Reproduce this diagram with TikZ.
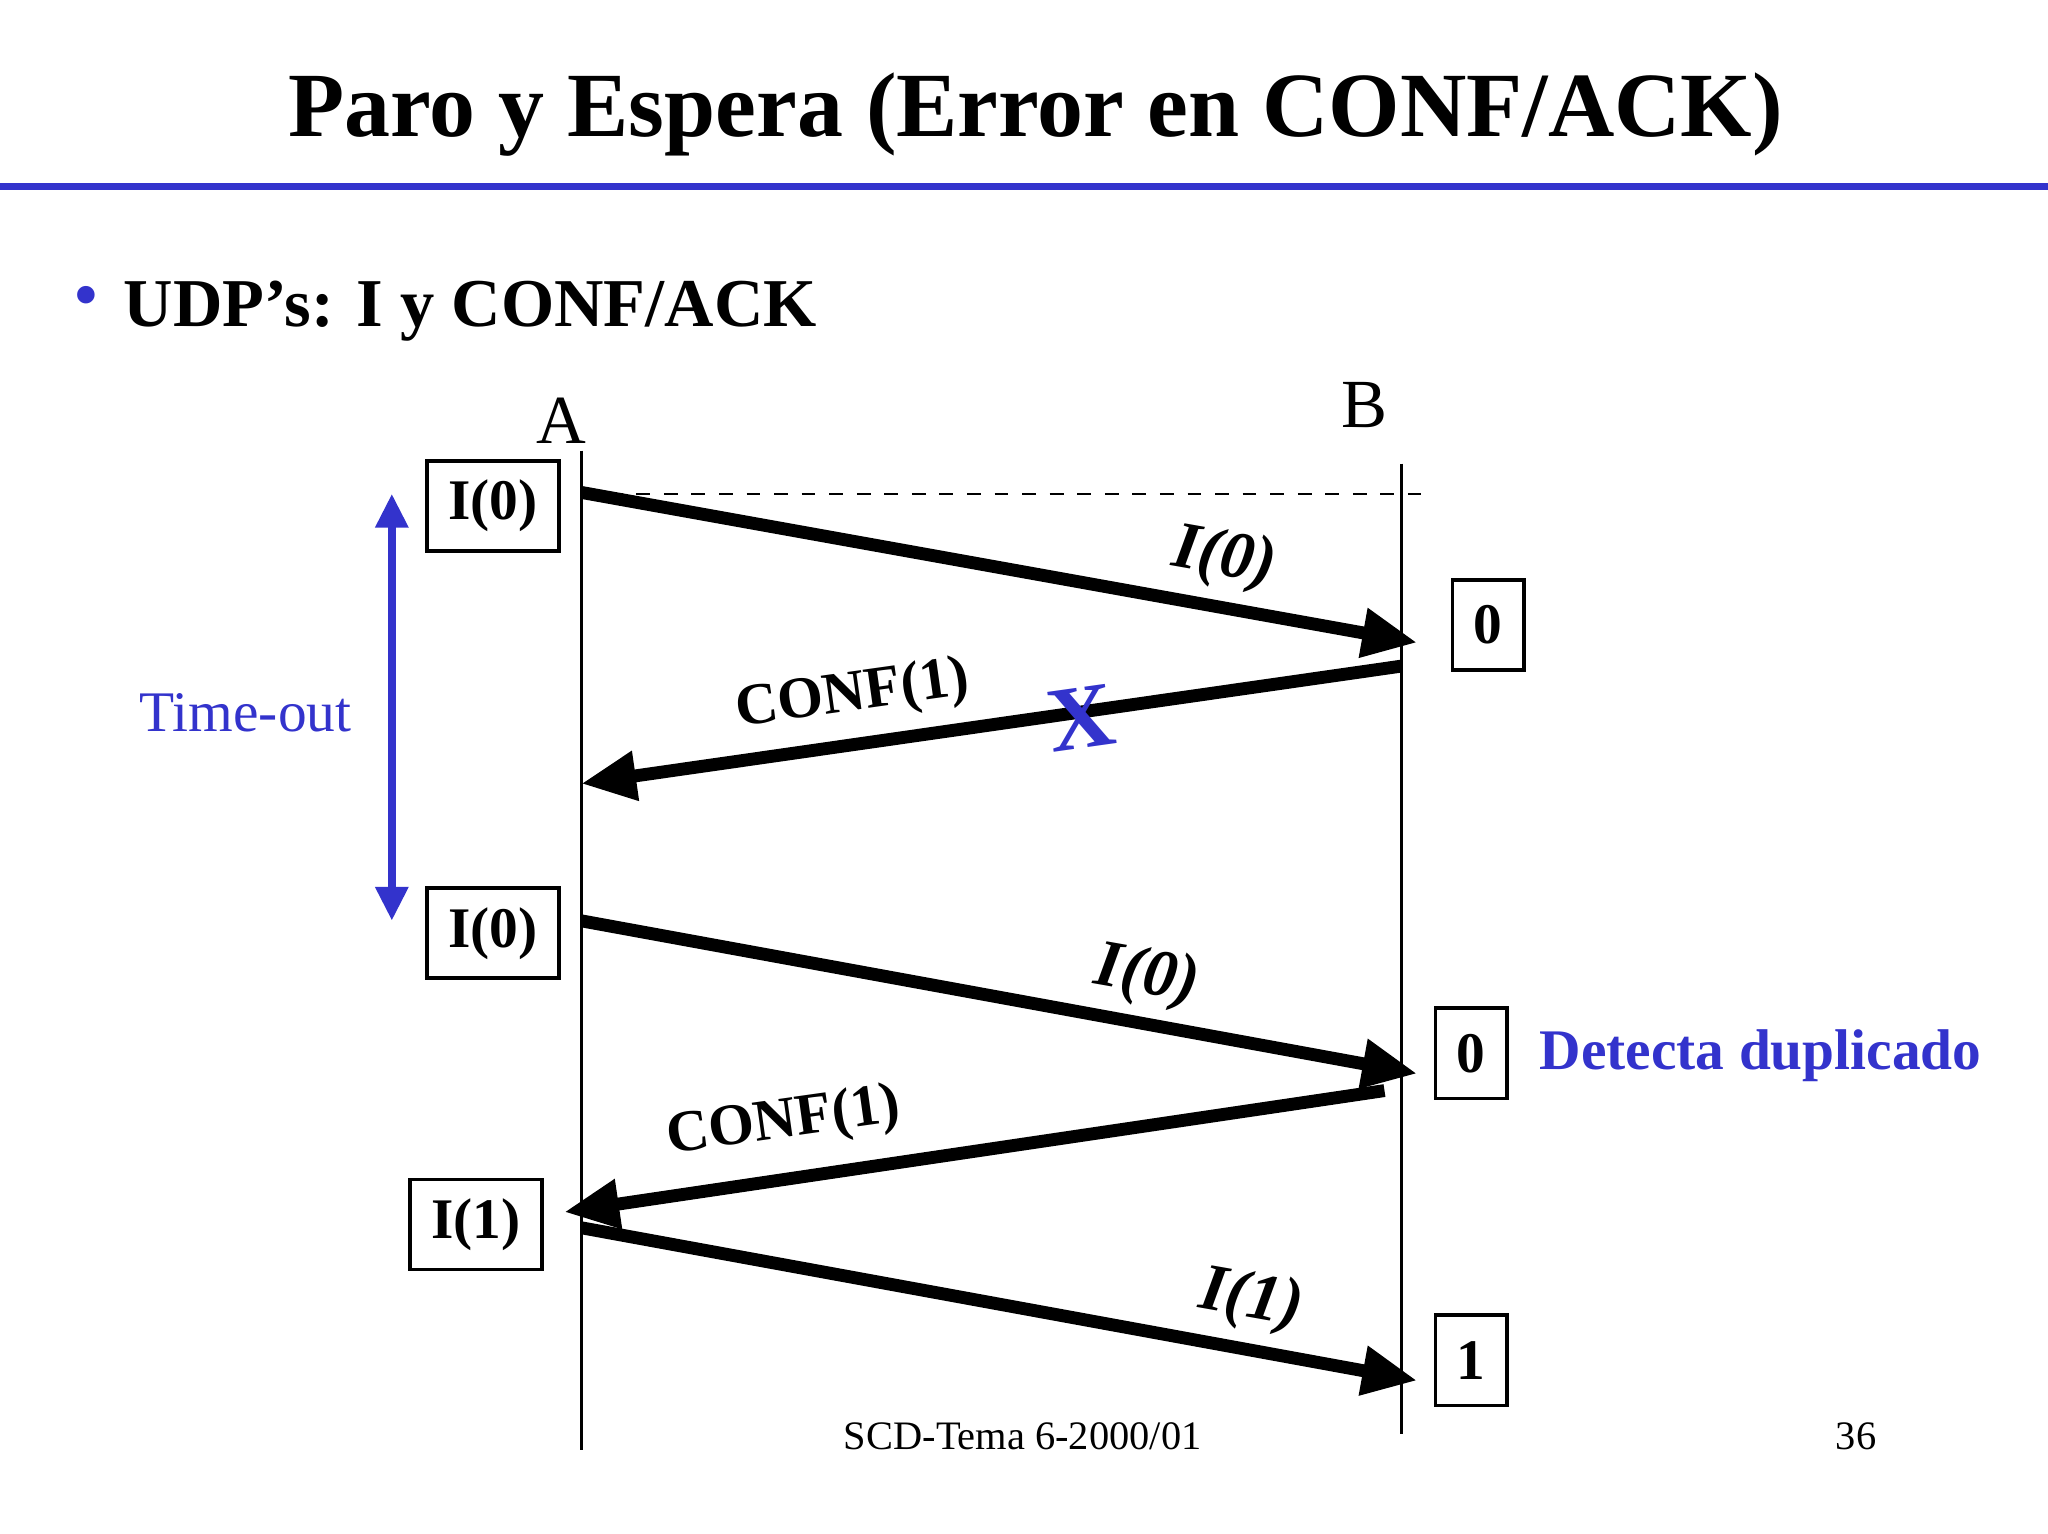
\documentclass[tikz,border=0pt]{standalone}
\usepackage{fontspec}
\setmainfont{Liberation Serif}
\usetikzlibrary{arrows.meta}
\definecolor{myblue}{RGB}{51,51,204}
\begin{document}
\begin{tikzpicture}[x=0.01cm,y=-0.01cm,
  box/.style={draw,line width=0.8pt,minimum width=1.01cm,minimum height=0.69cm,font=\fontsize{12.5}{12.5}\selectfont\bfseries,inner sep=0pt},
  sbox/.style={box,minimum width=0.55cm},
  msg/.style={line width=2.8pt,-{Triangle[length=0.42cm,width=0.36cm]}},
  lbl/.style={font=\fontsize{12.8}{12.8}\selectfont\bfseries},
  ilbl/.style={font=\fontsize{14.5}{14.5}\selectfont\bfseries\itshape}]
\useasboundingbox (0,0) rectangle (1568,1174);
\node[font=\fontsize{20}{20}\selectfont\bfseries] (title) at (793,88) {Paro y Espera (Error en CONF/ACK)};
\draw[myblue,line width=1.6pt] (0,143) -- (1568,143);
\node[myblue,font=\fontsize{16}{16}\selectfont] (bul) at (66,232) {•};
\node[anchor=west,font=\fontsize{14.9}{14.9}\selectfont\bfseries,inner sep=0pt] (udp) at (94,238) {UDP’s: I y CONF/ACK};
\node[font=\fontsize{15}{15}\selectfont] (A) at (430,322) {A};
\node[font=\fontsize{15}{15}\selectfont] (B) at (1045,310) {B};
\coordinate (At) at (445,345); \coordinate (Ab) at (445,1110);
\coordinate (Bt) at (1073,355); \coordinate (Bb) at (1073,1098);
\draw[line width=0.6pt] (At) -- (Ab);
\draw[line width=0.6pt] (Bt) -- (Bb);
\coordinate (d1) at (445,378); \coordinate (d2) at (1088,378);
\draw[dashed,line width=0.5pt] (d1) -- (d2);
\node[box] (b1) at (377.5,387.5) {I(0)};
\node[sbox] (b2) at (1139.5,478.5) {0};
\node[box] (b3) at (377.5,714.5) {I(0)};
\node[sbox] (b4) at (1126.5,806.5) {0};
\node[box] (b5) at (364.5,937.5) {I(1)};
\node[sbox] (b6) at (1126.5,1041.5) {1};
\coordinate (m1s) at (445,377); \coordinate (m1e) at (1085,492);
\coordinate (m2s) at (1073,510); \coordinate (m2e) at (445,600);
\coordinate (m3s) at (445,705); \coordinate (m3e) at (1085,822);
\coordinate (m4s) at (1060,835); \coordinate (m4e) at (432,928);
\coordinate (m5s) at (445,940); \coordinate (m5e) at (1085,1057);
\draw[msg] (m1s) -- (m1e);
\draw[msg] (m2s) -- (m2e);
\draw[msg] (m3s) -- (m3e);
\draw[msg] (m4s) -- (m4e);
\draw[msg] (m5s) -- (m5e);
\node[ilbl,rotate=-10] (l1) at (937,428) {I(0)};
\node[lbl,rotate=8] (l2) at (653,533) {CONF(1)};
\node[myblue,font=\fontsize{20}{20}\selectfont\bfseries,rotate=8] (x) at (828,550) {X};
\node[ilbl,rotate=-10] (l3) at (878,748) {I(0)};
\node[lbl,rotate=8] (l4) at (600,860) {CONF(1)};
\node[ilbl,rotate=-10] (l5) at (958,996) {I(1)};
\coordinate (t1) at (300,378); \coordinate (t2) at (300,705);
\draw[myblue,line width=1.8pt,{Triangle[length=0.26cm,width=0.24cm]}-{Triangle[length=0.26cm,width=0.24cm]}] (t1) -- (t2);
\node[myblue,font=\fontsize{12.5}{12.5}\selectfont] (to) at (188,546) {Time-out};
\node[myblue,font=\fontsize{12.5}{12.5}\selectfont\bfseries] (dd) at (1348,808) {Detecta duplicado};
\node[font=\fontsize{8.8}{8.8}\selectfont] (f1) at (783,1100) {SCD-Tema 6-2000/01};
\node[font=\fontsize{8.8}{8.8}\selectfont] (f2) at (1421,1100) {36};
\end{tikzpicture}
\end{document}
